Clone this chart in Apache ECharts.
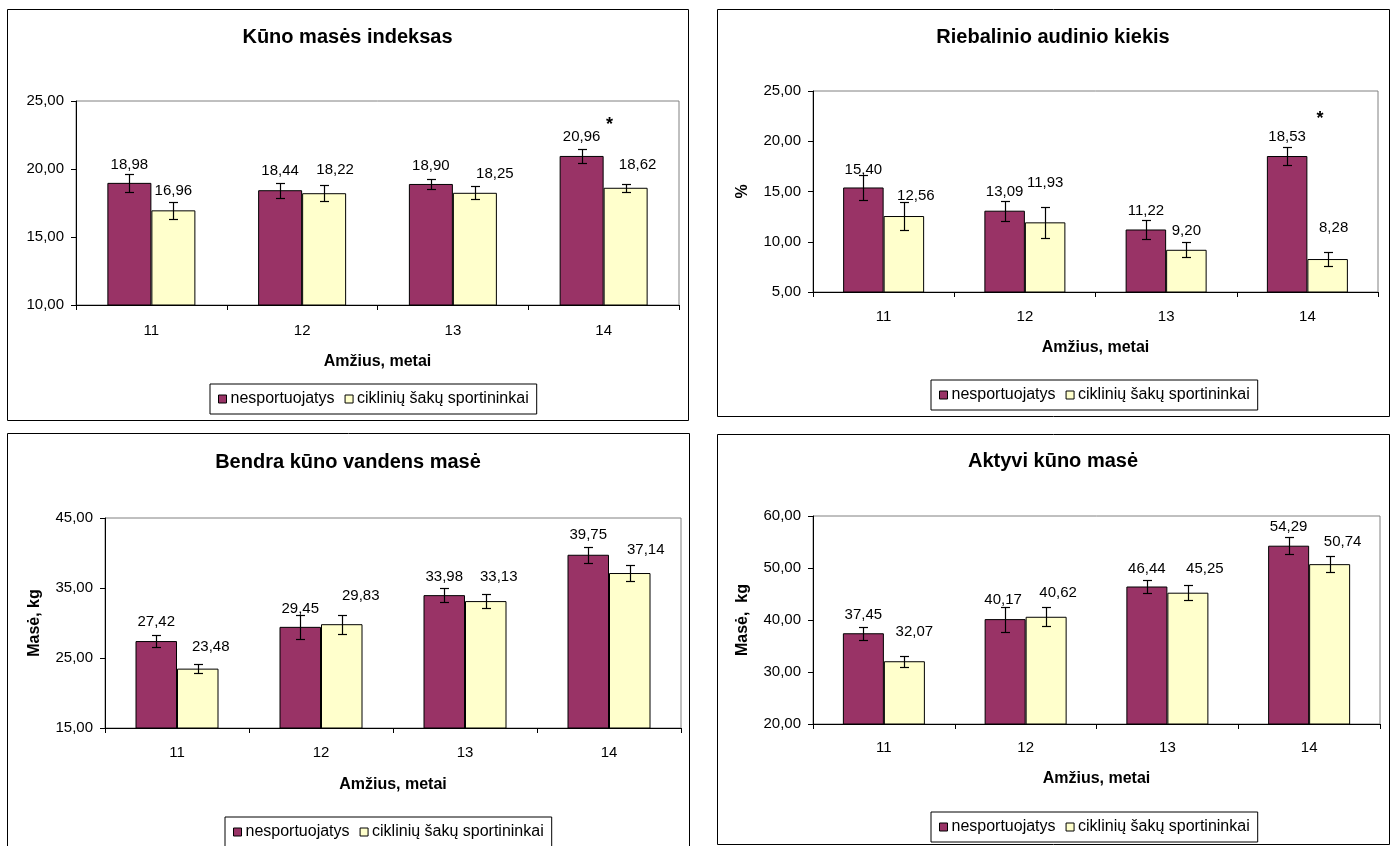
<!DOCTYPE html>
<html><head><meta charset="utf-8">
<script src="https://cdn.jsdelivr.net/npm/echarts@6.0.0/dist/echarts.min.js"></script>
<style>html,body{margin:0;padding:0;background:#fff}#c{width:1393px;height:846px}</style>
</head><body><div id="c"></div><script>
// ---------------- DATA ----------------
const categories = ['11', '12', '13', '14'];
const legendNames = ['nesportuojatys', 'ciklinių šakų sportininkai'];
const titles = ['Kūno masės indeksas', 'Riebalinio audinio kiekis', 'Bendra kūno vandens masė', 'Aktyvi kūno masė'];
const xAxisName = 'Amžius, metai';
const yAxisNames = ['', '%', 'Masė, kg', 'Masė,  kg'];

const kmiNesport = [18.98, 18.44, 18.90, 20.96];
const kmiCiklin = [16.96, 18.22, 18.25, 18.62];
const kmiNesportErr = [0.65, 0.55, 0.36, 0.51];
const kmiCiklinErr = [0.60, 0.57, 0.49, 0.31];
const kmiTicks = [10, 15, 20, 25];

const fatNesport = [15.40, 13.09, 11.22, 18.53];
const fatCiklin = [12.56, 11.93, 9.20, 8.28];
const fatNesportErr = [1.21, 0.99, 0.91, 0.91];
const fatCiklinErr = [1.37, 1.52, 0.76, 0.66];
const fatTicks = [5, 10, 15, 20, 25];

const waterNesport = [27.42, 29.45, 33.98, 39.75];
const waterCiklin = [23.48, 29.83, 33.13, 37.14];
const waterNesportErr = [0.88, 1.71, 0.97, 1.12];
const waterCiklinErr = [0.66, 1.33, 1.04, 1.14];
const waterTicks = [15, 25, 35, 45];

const activeNesport = [37.45, 40.17, 46.44, 54.29];
const activeCiklin = [32.07, 40.62, 45.25, 50.74];
const activeNesportErr = [1.28, 2.40, 1.28, 1.63];
const activeCiklinErr = [1.09, 1.79, 1.41, 1.57];
const activeTicks = [20, 30, 40, 50, 60];

const significanceMark = '*';
const significanceCategory = '14';

// ---------------- STYLE / LAYOUT ----------------
const FONT = '"Liberation Sans", Arial, sans-serif';
const COL_A = '#993366', COL_B = '#FFFFCC';
const panels = [
  { nes: kmiNesport, cik: kmiCiklin, nesErr: kmiNesportErr, cikErr: kmiCiklinErr, ticks: kmiTicks,
    box: [7, 9, 681, 411], grid: { left: 76, top: 101, width: 603, height: 204 }, titleX: 347.5, titleY: 37,
    legend: { left: 210, top: 384 }, barWidth: 44, xNameGap: 49, labelMargin: 18, yNameGap: 60,
    lblA: [[0, -18], [0, -19], [0, -18], [0, -19]], lblB: [[0, -19], [11, -23], [20, -19], [12, -23]],
    star: { y: 23.2, dx: 28 } },
  { nes: fatNesport, cik: fatCiklin, nesErr: fatNesportErr, cikErr: fatCiklinErr, ticks: fatTicks,
    box: [717, 9, 672, 407], grid: { left: 813, top: 91, width: 565, height: 201 }, titleX: 1053, titleY: 37,
    legend: { left: 931, top: 380 }, barWidth: 40.5, xNameGap: 48, labelMargin: 17, yNameGap: 62,
    lblA: [[0, -18], [0, -19], [0, -19], [0, -19]], lblB: [[12, -20], [0, -39], [0, -19], [6, -31]],
    star: { y: 22.2, dx: 33 } },
  { nes: waterNesport, cik: waterCiklin, nesErr: waterNesportErr, cikErr: waterCiklinErr, ticks: waterTicks,
    box: [7, 433, 682, 430], grid: { left: 105, top: 518, width: 576, height: 210 }, titleX: 348, titleY: 462,
    legend: { left: 225, top: 817 }, barWidth: 41.5, xNameGap: 49, labelMargin: 17, yNameGap: 62,
    lblA: [[0, -19], [0, -18], [0, -18], [0, -20]], lblB: [[13, -22], [19, -28], [13, -24], [16, -23]],
    star: null },
  { nes: activeNesport, cik: activeCiklin, nesErr: activeNesportErr, cikErr: activeCiklinErr, ticks: activeTicks,
    box: [717, 434, 672, 410], grid: { left: 813, top: 516, width: 567, height: 208 }, titleX: 1053, titleY: 461,
    legend: { left: 931, top: 812 }, barWidth: 41, xNameGap: 47, labelMargin: 16, yNameGap: 62,
    lblA: [[0, -18], [-2, -19], [0, -18], [0, -19]], lblB: [[10, -29], [12, -24], [17, -24], [13, -22]],
    star: null }
];

const fmt = v => Number(v).toFixed(2).replace('.', ',');

function errRenderer(offset) {
  return function (params, api) {
    const lo = api.coord([api.value(0), api.value(1)]);
    const hi = api.coord([api.value(0), api.value(2)]);
    const x = Math.round(lo[0] + offset) + 0.5;
    const y1 = Math.round(hi[1]) + 0.5, y2 = Math.round(lo[1]) + 0.5;
    const cw = 4.5;
    const st = { stroke: '#000', lineWidth: 1.2 };
    return { type: 'group', children: [
      { type: 'line', shape: { x1: x, y1: y1, x2: x, y2: y2 }, style: st },
      { type: 'line', shape: { x1: x - cw, y1: y1, x2: x + cw, y2: y1 }, style: st },
      { type: 'line', shape: { x1: x - cw, y1: y2, x2: x + cw, y2: y2 }, style: st }
    ] };
  };
}

const option = { animation: false, backgroundColor: '#fff', textStyle: { fontFamily: FONT },
  grid: [], xAxis: [], yAxis: [], series: [], legend: [], graphic: [] };

panels.forEach((p, i) => {
  option.graphic.push({ type: 'rect', z: -10, silent: true,
    shape: { x: p.box[0] + 0.5, y: p.box[1] + 0.5, width: p.box[2], height: p.box[3] },
    style: { fill: '#fff', stroke: '#000', lineWidth: 1 } });
  option.graphic.push({ type: 'text', silent: true, x: p.titleX, y: p.titleY,
    style: { text: titles[i], fontFamily: FONT, fontSize: 20, fontWeight: 'bold', fill: '#000', align: 'center', verticalAlign: 'middle' } });

  option.grid.push(Object.assign({ show: true, backgroundColor: '#fff', borderColor: '#808080', borderWidth: 1 }, p.grid));
  option.xAxis.push({ type: 'category', gridIndex: i, data: categories,
    name: xAxisName, nameLocation: 'middle', nameGap: p.xNameGap,
    nameTextStyle: { fontFamily: FONT, fontSize: 16, fontWeight: 'bold', color: '#000' },
    axisLine: { lineStyle: { color: '#000', width: 1 } },
    axisTick: { show: true, length: 5, inside: false, lineStyle: { color: '#000' } },
    axisLabel: { fontFamily: FONT, fontSize: 15, color: '#000', margin: p.labelMargin },
    splitLine: { show: false } });
  const t = p.ticks;
  option.yAxis.push({ type: 'value', gridIndex: i, min: t[0], max: t[t.length - 1], interval: t[1] - t[0],
    name: yAxisNames[i], nameLocation: 'middle', nameGap: p.yNameGap, nameRotate: 90,
    nameTextStyle: { fontFamily: FONT, fontSize: 16, fontWeight: 'bold', color: '#000' },
    axisLine: { show: true, lineStyle: { color: '#000', width: 1 } },
    axisTick: { show: true, length: 5, inside: false, lineStyle: { color: '#000' } },
    axisLabel: { fontFamily: FONT, fontSize: 15, color: '#000', margin: 12, formatter: fmt },
    splitLine: { show: false } });

  const mkBar = (name, vals, color, lbl, star) => {
    const s = { type: 'bar', name: name, xAxisIndex: i, yAxisIndex: i, barWidth: p.barWidth, barGap: '0%',
      itemStyle: { color: color, borderColor: '#000', borderWidth: 1 },
      label: { show: true, position: 'top', distance: 0, fontFamily: FONT, fontSize: 15, color: '#000',
        formatter: q => fmt(q.value) },
      data: vals.map((v, k) => ({ value: v, label: { offset: [lbl[k][0], lbl[k][1] + 7.5] } })) };
    if (star) {
      s.markPoint = { silent: true, symbol: 'circle', symbolSize: 1, itemStyle: { color: 'rgba(0,0,0,0)' },
        label: { show: true, formatter: significanceMark, fontFamily: FONT, fontSize: 18, fontWeight: 'bold', color: '#000', offset: [star.dx, 0] },
        data: [{ coord: [significanceCategory, star.y] }] };
    }
    return s;
  };
  option.series.push(mkBar(legendNames[0], p.nes, COL_A, p.lblA, p.star));
  option.series.push(mkBar(legendNames[1], p.cik, COL_B, p.lblB, null));
  option.series.push({ type: 'custom', name: 'err-a-' + i, xAxisIndex: i, yAxisIndex: i, z: 5, silent: true,
    renderItem: errRenderer(-p.barWidth / 2), encode: { x: 0, y: [1, 2] },
    data: p.nes.map((v, k) => [k, v - p.nesErr[k], v + p.nesErr[k]]) });
  option.series.push({ type: 'custom', name: 'err-b-' + i, xAxisIndex: i, yAxisIndex: i, z: 5, silent: true,
    renderItem: errRenderer(p.barWidth / 2), encode: { x: 0, y: [1, 2] },
    data: p.cik.map((v, k) => [k, v - p.cikErr[k], v + p.cikErr[k]]) });

  option.legend.push({ data: legendNames, left: p.legend.left, top: p.legend.top, orient: 'horizontal',
    icon: 'rect', itemWidth: 8, itemHeight: 8, itemGap: 10, padding: [7, 8],
    borderColor: '#000', borderWidth: 1, backgroundColor: '#fff',
    itemStyle: { borderColor: '#000', borderWidth: 1 },
    textStyle: { fontFamily: FONT, fontSize: 16, color: '#000', padding: [0, 0, 0, -1] } });
});

const chart = echarts.init(document.getElementById('c'), null, { renderer: 'canvas' });
chart.setOption(option);
</script></body></html>
